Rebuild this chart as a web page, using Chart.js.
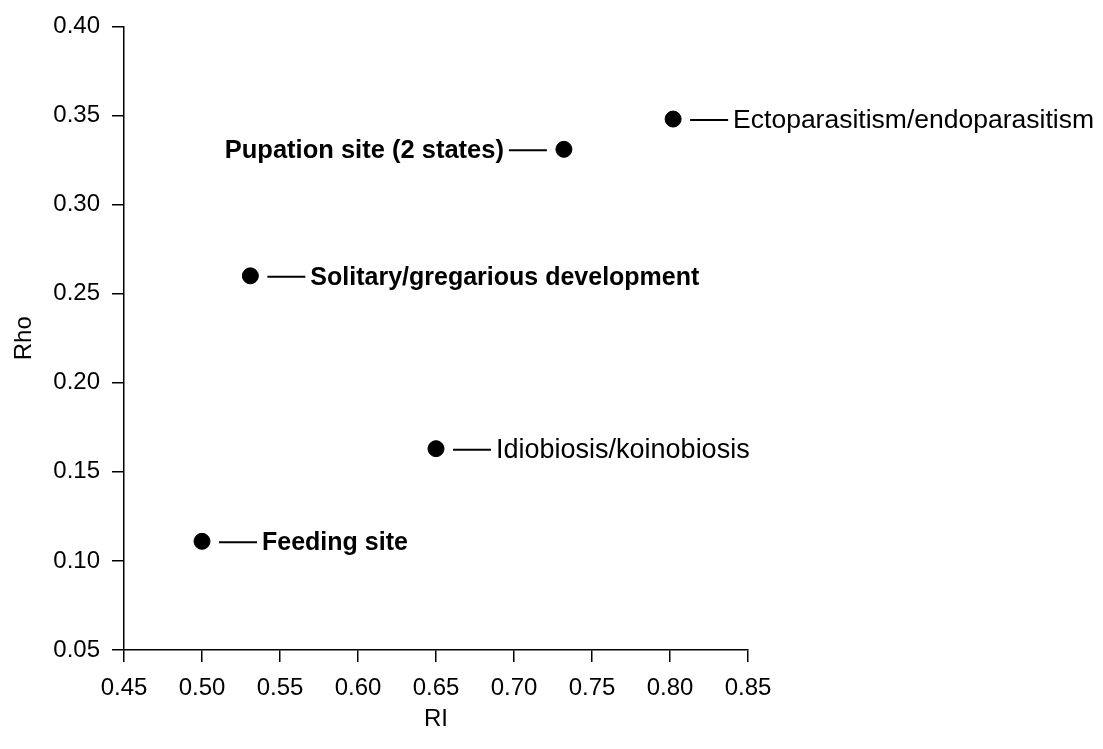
<!DOCTYPE html>
<html>
<head>
<meta charset="utf-8">
<script src="https://cdn.jsdelivr.net/npm/chart.js@4/dist/chart.umd.min.js"></script>
<style>
  html, body { margin: 0; padding: 0; background: #fff; }
  #wrap { width: 1103px; height: 749px; }
</style>
</head>
<body>
<div id="wrap"><canvas id="scatterChart"></canvas></div>
<script>
// data
const traitNames = ['Feeding site', 'Solitary/gregarious development', 'Idiobiosis/koinobiosis', 'Pupation site (2 states)', 'Ectoparasitism/endoparasitism'];
const riValues = [0.50, 0.531, 0.65, 0.732, 0.802];
const rhoValues = [0.111, 0.26, 0.163, 0.331, 0.348];
const xTicks = [0.45, 0.50, 0.55, 0.60, 0.65, 0.70, 0.75, 0.80, 0.85];
const yTicks = [0.05, 0.10, 0.15, 0.20, 0.25, 0.30, 0.35, 0.40];

const FONT = '"Liberation Sans", Arial, Helvetica, sans-serif';

// how each point label is placed (side of the point, weight, size)
const labelLook = [
    { side: 'right', bold: true, size: 25 },
    { side: 'right', bold: true, size: 25 },
    { side: 'right', bold: false, size: 27 },
    { side: 'left', bold: true, size: 25.5 },
    { side: 'right', bold: false, size: 26.5 }
];

// plugin: short dash + text next to every point
const pointLabels = {
    id: 'pointLabels',
    afterDatasetsDraw(chart) {
        const ctx = chart.ctx;
        const meta = chart.getDatasetMeta(0);
        ctx.save();
        ctx.strokeStyle = '#000';
        ctx.fillStyle = '#000';
        ctx.lineWidth = 2;
        ctx.textBaseline = 'middle';
        meta.data.forEach((pt, i) => {
            const look = labelLook[i];
            const dir = look.side === 'right' ? 1 : -1;
            const x = pt.x, y = pt.y + 1;
            ctx.beginPath();
            ctx.moveTo(x + dir * 17, y);
            ctx.lineTo(x + dir * 55, y);
            ctx.stroke();
            ctx.font = (look.bold ? 'bold ' : '') + look.size + 'px ' + FONT;
            ctx.textAlign = dir > 0 ? 'left' : 'right';
            ctx.fillText(traitNames[i], x + dir * 60, y + 1);
        });
        ctx.restore();
    }
};

const points = riValues.map((v, i) => ({ x: v, y: rhoValues[i] }));

function axisCommon(tickList, title) {
    return {
        type: 'linear',
        min: tickList[0],
        max: tickList[tickList.length - 1],
        afterBuildTicks: scale => { scale.ticks = tickList.map(v => ({ value: v })); },
        ticks: {
            color: '#000',
            font: { family: FONT, size: 24 },
            callback: v => Number(v).toFixed(2)
        },
        grid: {
            drawOnChartArea: false,
            drawTicks: true,
            tickLength: 12,
            color: '#000',
            lineWidth: 1.5
        },
        border: { display: true, color: '#000', width: 1.5 },
        title: {
            display: true,
            text: title,
            color: '#000',
            font: { family: FONT, size: 24 }
        }
    };
}

const xAxis = axisCommon(xTicks, 'RI');
xAxis.ticks.padding = 12;
xAxis.ticks.maxRotation = 0;
xAxis.title.padding = { top: 0, bottom: 15 };
xAxis.afterFit = scale => { scale.height = 99; };

const yAxis = axisCommon(yTicks, 'Rho');
yAxis.ticks.padding = 12;
yAxis.title.padding = { top: 10, bottom: 0 };
yAxis.afterFit = scale => { scale.width = 124; };

new Chart(document.getElementById('scatterChart'), {
    type: 'scatter',
    data: {
        datasets: [{
            label: 'Traits',
            data: points,
            backgroundColor: '#000',
            borderColor: '#000',
            pointRadius: 8,
            pointHoverRadius: 8
        }]
    },
    options: {
        responsive: true,
        maintainAspectRatio: false,
        animation: false,
        layout: { padding: { top: 22, right: 355, left: 0, bottom: 0 } },
        plugins: {
            legend: { display: false },
            tooltip: { enabled: false }
        },
        scales: { x: xAxis, y: yAxis }
    },
    plugins: [pointLabels]
});
</script>
</body>
</html>
